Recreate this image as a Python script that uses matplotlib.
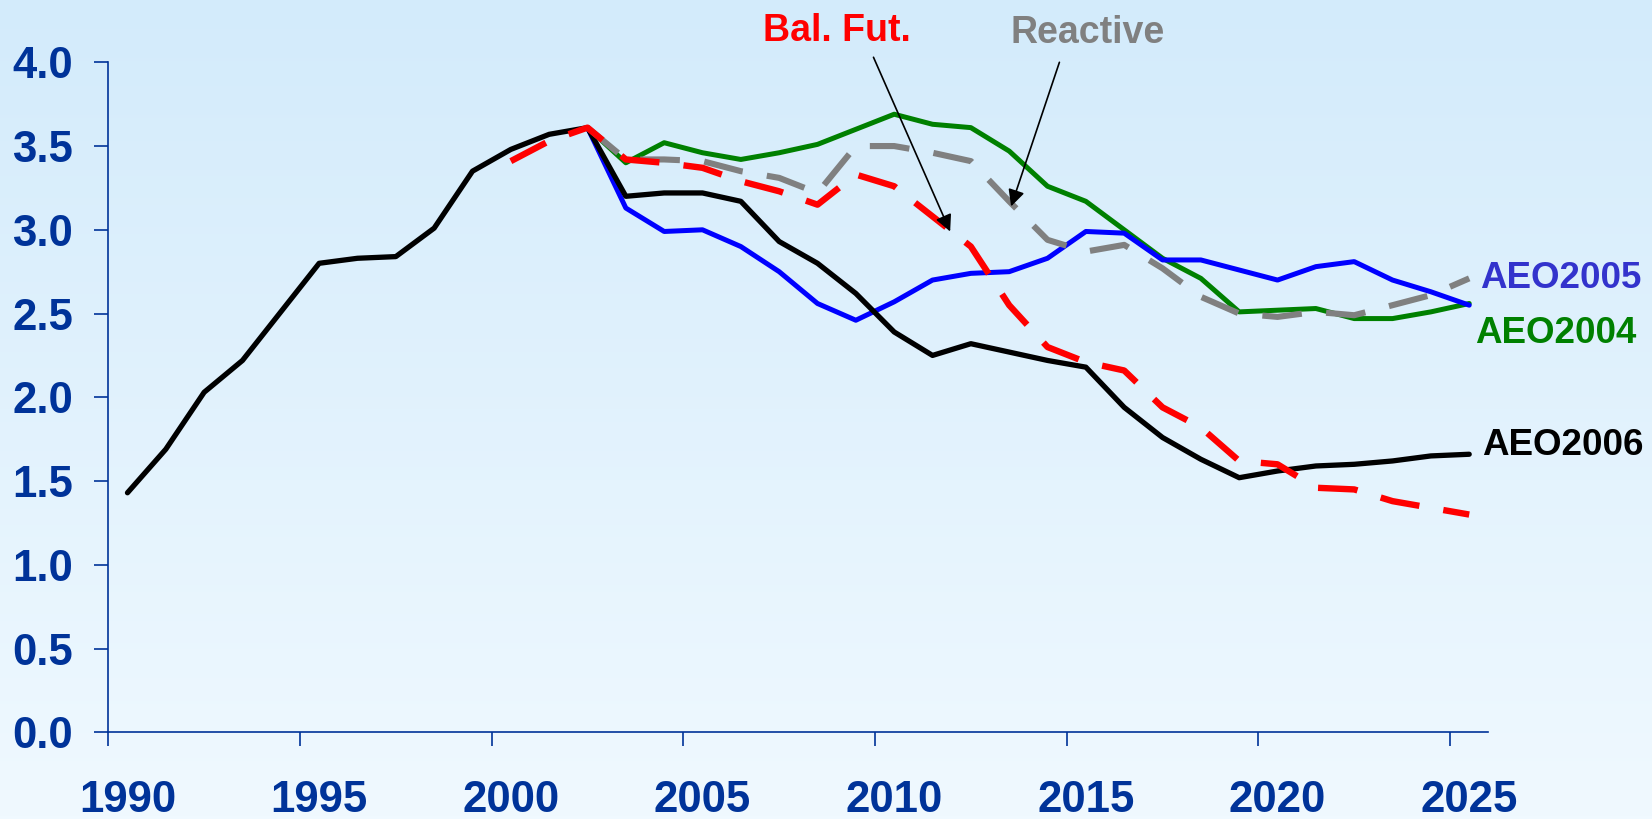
import numpy as np
import matplotlib.pyplot as plt
from matplotlib.ticker import FixedLocator, FormatStrFormatter

plt.rcParams['font.family'] = ['Liberation Sans', 'DejaVu Sans']
plt.rcParams['font.weight'] = 'bold'

# data (one value per year)
aeo2006_years = list(range(1990, 2026))
aeo2006 = [1.43, 1.69, 2.03, 2.22, 2.51, 2.80, 2.83, 2.84, 3.01, 3.35,
           3.48, 3.57, 3.61, 3.20, 3.22, 3.22, 3.17, 2.93, 2.80, 2.62,
           2.39, 2.25, 2.32, 2.27, 2.22, 2.18, 1.94, 1.76, 1.63, 1.52,
           1.56, 1.59, 1.60, 1.62, 1.65, 1.66]

proj_years = list(range(2002, 2026))
aeo2005 = [3.61, 3.13, 2.99, 3.00, 2.90, 2.75, 2.56, 2.46, 2.57, 2.70,
           2.74, 2.75, 2.83, 2.99, 2.98, 2.82, 2.82, 2.76, 2.70, 2.78,
           2.81, 2.70, 2.63, 2.55]
aeo2004 = [3.61, 3.40, 3.52, 3.46, 3.42, 3.46, 3.51, 3.60, 3.69, 3.63,
           3.61, 3.47, 3.26, 3.17, 3.00, 2.83, 2.71, 2.51, 2.52, 2.53,
           2.47, 2.47, 2.51, 2.56]
reactive = [3.61, 3.42, 3.42, 3.41, 3.35, 3.31, 3.22, 3.50, 3.50, 3.46,
            3.41, 3.17, 2.94, 2.87, 2.91, 2.77, 2.60, 2.50, 2.48, 2.51,
            2.49, 2.55, 2.61, 2.71]

balfut_years = list(range(2000, 2026))
balfut = [3.41, 3.53, 3.61, 3.42, 3.40, 3.37, 3.29, 3.23, 3.15, 3.33,
          3.26, 3.08, 2.90, 2.55, 2.30, 2.21, 2.16, 1.94, 1.82, 1.62,
          1.60, 1.46, 1.45, 1.38, 1.34, 1.30]

tick_years = list(range(1990, 2030, 5))
y_ticks = np.arange(0, 4.01, 0.5)

axis_blue = '#003399'

fig = plt.figure(figsize=(16.52, 8.19), dpi=100)

# light blue vertical gradient behind everything
bg = fig.add_axes([0, 0, 1, 1], zorder=-1)
grad = np.linspace(0, 1, 256).reshape(-1, 1)
top = np.array([211, 235, 251]) / 255
bot = np.array([240, 249, 255]) / 255
img = top + (bot - top) * grad[:, :, None]
bg.imshow(img, aspect='auto', extent=[0, 1, 0, 1])
bg.axis('off')

ax = fig.add_axes([0.06556, 0.10586, 0.8354, 0.81807])
ax.patch.set_alpha(0)

# Excel category axis: points sit in the middle of each year
x = lambda yrs: np.array(yrs) + 0.5

ax.plot(x(proj_years), aeo2004, color='#008000', lw=3.6, solid_capstyle='round', zorder=2)
ax.plot(x(proj_years), aeo2005, color='#0000ff', lw=3.6, solid_capstyle='round', zorder=3)
ax.plot(x(aeo2006_years), aeo2006, color='black', lw=3.8, solid_capstyle='round', zorder=4)
ax.plot(x(proj_years), reactive, color='#808080', lw=4.4, dashes=(6.5, 4),
        dash_capstyle='butt', zorder=5)
ax.plot(x(balfut_years), balfut, color='#ff0000', lw=4.6, dashes=(6.2, 3.8),
        dash_capstyle='butt', zorder=6)

ax.set_xlim(1990, 2026)
ax.set_ylim(0, 4.0)

for s in ['top', 'right']:
    ax.spines[s].set_visible(False)
for s in ['left', 'bottom']:
    ax.spines[s].set_color(axis_blue)
    ax.spines[s].set_linewidth(1.2)

ax.set_yticks(y_ticks)
ax.yaxis.set_major_formatter(FormatStrFormatter('%.1f'))
ax.tick_params(axis='y', direction='out', length=10, width=1.2, color=axis_blue,
               labelcolor=axis_blue, labelsize=31.5, pad=15.5)

# tick marks on the year boundaries, labels centred on the year
ax.xaxis.set_major_locator(FixedLocator(tick_years))
ax.xaxis.set_minor_locator(FixedLocator([t + 0.5 for t in tick_years]))
ax.set_xticklabels([])
ax.set_xticklabels([str(t) for t in tick_years], minor=True)
ax.tick_params(axis='x', which='major', direction='out', length=10, width=1.2,
               color=axis_blue)
ax.tick_params(axis='x', which='minor', length=0, labelcolor=axis_blue,
               labelsize=31.5, pad=34)
for lab in ax.get_yticklabels() + ax.get_xticklabels(minor=True):
    lab.set_fontweight('bold')

# scenario labels with arrows
ax.annotate('', xy=(2011.96, 2.99), xytext=(2009.96, 4.03),
            arrowprops=dict(arrowstyle='-|>', color='black', lw=1.2,
                            mutation_scale=25, shrinkA=0, shrinkB=0),
            annotation_clip=False, zorder=7)
ax.annotate('', xy=(2013.55, 3.14), xytext=(2014.81, 4.00),
            arrowprops=dict(arrowstyle='-|>', color='black', lw=1.2,
                            mutation_scale=25, shrinkA=0, shrinkB=0),
            annotation_clip=False, zorder=7)

fig.text(0.5067, 0.9503, 'Bal. Fut.', color='#ff0000', fontsize=27,
         fontweight='bold', ha='center', va='baseline')
fig.text(0.6586, 0.9481, 'Reactive', color='#808080', fontsize=27,
         fontweight='bold', ha='center', va='baseline')

fig.text(0.8959, 0.6480, 'AEO2005', color='#3333cc', fontsize=26.5,
         fontweight='bold', ha='left', va='baseline')
fig.text(0.8929, 0.5816, 'AEO2004', color='#008000', fontsize=26.5,
         fontweight='bold', ha='left', va='baseline')
fig.text(0.8971, 0.4444, 'AEO2006', color='black', fontsize=26.5,
         fontweight='bold', ha='left', va='baseline')

fig.savefig('out.png', dpi=100)
